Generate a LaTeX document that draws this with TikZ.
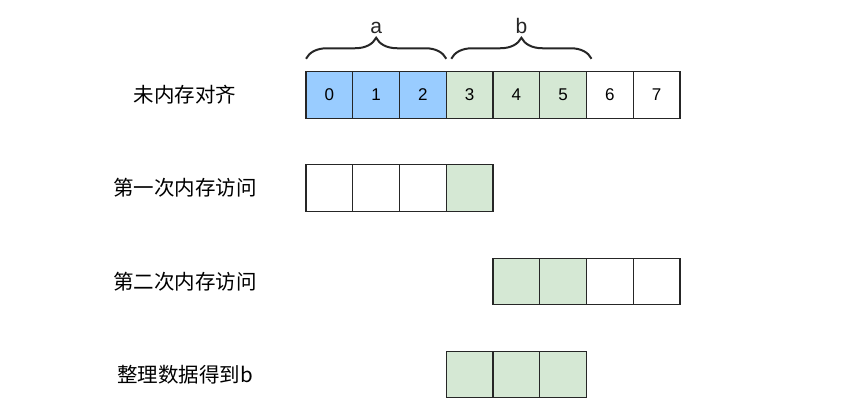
\documentclass[tikz,border=0pt]{standalone}
\usepackage{fontspec}
\setmainfont{Liberation Sans}
\newfontfamily\cjk{Noto Sans CJK SC}
\usepackage{xcolor}
\usepackage{tikz}
\usetikzlibrary{positioning,decorations.pathreplacing}

\definecolor{cellblue}{HTML}{99CCFF}
\definecolor{cellgreen}{HTML}{D5E8D4}

\begin{document}
\begin{tikzpicture}[x=1pt, y=1pt, font=\fontsize{17}{20}\selectfont,
  cell/.style={draw=black!85, line width=1.2pt, minimum width=46.75pt, minimum height=46.5pt, inner sep=0pt, outer sep=0pt, fill=white},
  blue/.style={cell, fill=cellblue},
  green/.style={cell, fill=cellgreen},
  rowlabel/.style={font=\cjk\fontsize{20.5}{24}\selectfont},
  brace/.style={decorate, decoration={brace, amplitude=21pt}, line width=2pt, black!85},
  bracelabel/.style={font=\fontsize{21}{24}\selectfont, anchor=base, yshift=25pt}]
\useasboundingbox (0,0) rectangle (861,400);
% row 1: unaligned layout
\node[rowlabel] (lunal) at (185,305) {未内存对齐};
\node[blue] (c0) at (329.4,305) {0};
\node[blue, right=0pt of c0] (c1) {1}; \node[blue, right=0pt of c1] (c2) {2};
\node[green, right=0pt of c2] (c3) {3}; \node[green, right=0pt of c3] (c4) {4};
\node[green, right=0pt of c4] (c5) {5}; \node[cell, right=0pt of c5] (c6) {6};
\node[cell, right=0pt of c6] (c7) {7};
% braces over a and b
\draw[brace] ([yshift=13pt]c0.north west) -- ([yshift=13pt]c2.north east) node[midway, bracelabel] (la) {a};
\draw[brace] ([shift={(5pt,13pt)}]c3.north west) -- ([shift={(5pt,13pt)}]c5.north east) node[midway, bracelabel] (lb) {b};
% row 2: first access
\node[rowlabel] (lfirst) at (185,212) {第一次内存访问};
\node[cell] (f0) at (329.4,212) {};
\node[cell, right=0pt of f0] (f1) {}; \node[cell, right=0pt of f1] (f2) {};
\node[green, right=0pt of f2] (f3) {};
% row 3: second access
\node[rowlabel] (lsecond) at (185,118.5) {第二次内存访问};
\node[green] (s0) at (516.4,118.5) {};
\node[green, right=0pt of s0] (s1) {}; \node[cell, right=0pt of s1] (s2) {};
\node[cell, right=0pt of s2] (s3) {};
% row 4: merged result
\node[rowlabel] (lmerge) at (185,25.5) {整理数据得到b};
\node[green] (m0) at (469.6,25.5) {};
\node[green, right=0pt of m0] (m1) {}; \node[green, right=0pt of m1] (m2) {};
\end{tikzpicture}
\end{document}
